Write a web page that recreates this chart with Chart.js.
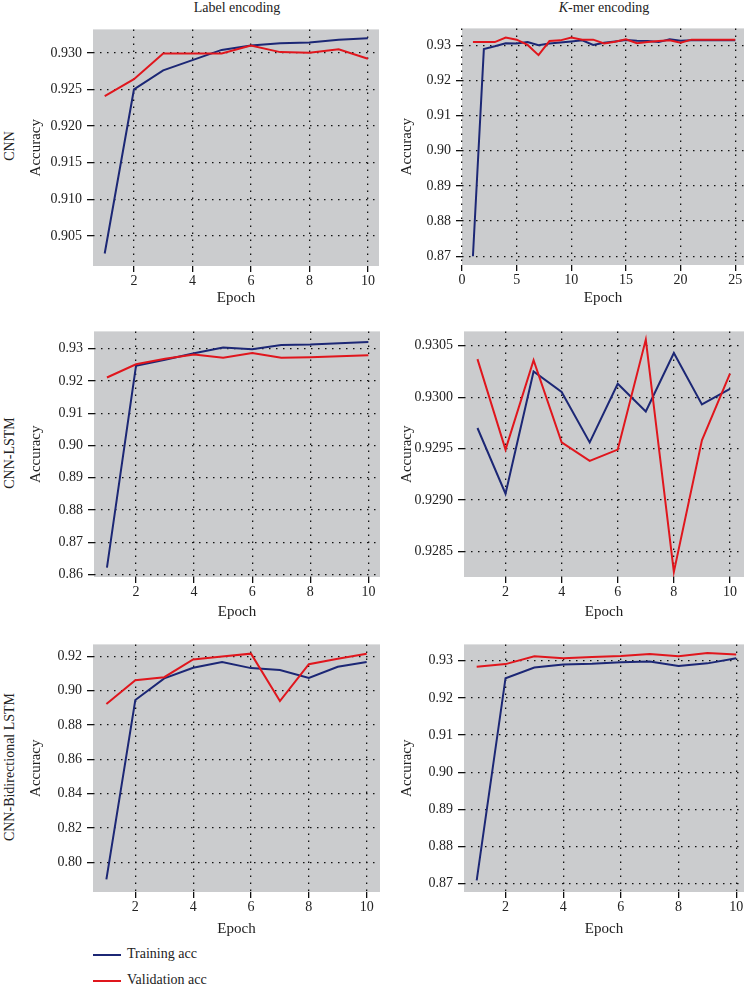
<!DOCTYPE html>
<html>
<head>
<meta charset="utf-8">
<title>Accuracy curves</title>
<script src="https://cdn.jsdelivr.net/npm/chart.js@4.4.1/dist/chart.umd.min.js"></script>
<style>
  body { margin: 0; width: 746px; height: 985px; background: #fff; overflow: hidden; position: relative;
         font-family: "Liberation Serif", "DejaVu Serif", serif; color: #222; }
  canvas { position: absolute; }
  .txt { position: absolute; font-size: 14px; line-height: 16px; white-space: nowrap; }
  .col { top: 0; transform: translateX(-50%); }
  .row { transform: translate(-50%, -50%) rotate(-90deg); }
  .key { position: absolute; left: 93px; width: 28px; height: 2px; }
</style>
</head>
<body>

<div class="txt col" style="left:237px">Label encoding</div>
<div class="txt col" style="left:604px"><i>K</i>-mer encoding</div>

<div class="txt row" style="left:10px;top:146px">CNN</div>
<div class="txt row" style="left:10px;top:453px">CNN-LSTM</div>
<div class="txt row" style="left:10px;top:767px">CNN-Bidirectional LSTM</div>

<div class="key" style="top:954px;background:#1c2775"></div>
<div class="txt" style="left:127px;top:946px">Training acc</div>
<div class="key" style="top:980px;background:#e0161d"></div>
<div class="txt" style="left:127px;top:972px">Validation acc</div>

<canvas id="p1"></canvas>
<canvas id="p2"></canvas>
<canvas id="p3"></canvas>
<canvas id="p4"></canvas>
<canvas id="p5"></canvas>
<canvas id="p6"></canvas>

<script>
// epochs and tick labels
const epochs10 = [1, 2, 3, 4, 5, 6, 7, 8, 9, 10];
const epochs25 = [1, 2, 3, 4, 5, 6, 7, 8, 9, 10, 11, 12, 13, 14, 15, 16, 17, 18, 19, 20, 21, 22, 23, 24, 25];
const xTicks10 = [2, 4, 6, 8, 10];
const xTicks25 = [0, 5, 10, 15, 20, 25];

// CNN, label encoding
const cnnLabelTrain = [0.9026, 0.9250, 0.9276, 0.9290, 0.9304, 0.9310, 0.9313, 0.9314, 0.9318, 0.9320];
const cnnLabelValid = [0.9241, 0.9264, 0.9299, 0.9299, 0.9299, 0.9310, 0.9301, 0.9300, 0.9305, 0.9292];
const cnnLabelYTicks = [0.905, 0.910, 0.915, 0.920, 0.925, 0.930];

// CNN, k-mer encoding
const cnnKmerTrain = [0.8700, 0.9289, 0.9297, 0.9306, 0.9305, 0.9309, 0.9300, 0.9305, 0.9308, 0.9311, 0.9314, 0.9301, 0.9307,
                      0.9311, 0.9315, 0.9313, 0.9312, 0.9309, 0.9317, 0.9313, 0.9314, 0.9314, 0.9314, 0.9314, 0.9314];
const cnnKmerValid = [0.9309, 0.9309, 0.9309, 0.9322, 0.9316, 0.9301, 0.9272, 0.9312, 0.9314, 0.9322, 0.9316, 0.9316, 0.9305,
                      0.9310, 0.9317, 0.9306, 0.9309, 0.9312, 0.9314, 0.9307, 0.9316, 0.9316, 0.9316, 0.9316, 0.9316];
const cnnKmerYTicks = [0.87, 0.88, 0.89, 0.90, 0.91, 0.92, 0.93];

// CNN-LSTM, label encoding
const lstmLabelTrain = [0.8621, 0.9247, 0.9266, 0.9286, 0.9304, 0.9299, 0.9312, 0.9313, 0.9317, 0.9321];
const lstmLabelValid = [0.9211, 0.9252, 0.9269, 0.9282, 0.9272, 0.9287, 0.9272, 0.9274, 0.9277, 0.9280];
const lstmLabelYTicks = [0.86, 0.87, 0.88, 0.89, 0.90, 0.91, 0.92, 0.93];

// CNN-LSTM, k-mer encoding
const lstmKmerTrain = [0.92970, 0.92906, 0.93025, 0.93005, 0.92956, 0.93013, 0.92986, 0.93043, 0.92993, 0.93008];
const lstmKmerValid = [0.93037, 0.92949, 0.93036, 0.92956, 0.92938, 0.92949, 0.93056, 0.92830, 0.92958, 0.93023];
const lstmKmerYTicks = [0.9285, 0.9290, 0.9295, 0.9300, 0.9305];

// CNN-Bidirectional LSTM, label encoding
const bilstmLabelTrain = [0.7901, 0.8945, 0.9071, 0.9133, 0.9166, 0.9131, 0.9120, 0.9074, 0.9139, 0.9166];
const bilstmLabelValid = [0.8922, 0.9061, 0.9078, 0.9181, 0.9198, 0.9215, 0.8939, 0.9154, 0.9185, 0.9215];
const bilstmLabelYTicks = [0.80, 0.82, 0.84, 0.86, 0.88, 0.90, 0.92];

// CNN-Bidirectional LSTM, k-mer encoding
const bilstmKmerTrain = [0.8709, 0.9253, 0.9282, 0.9290, 0.9292, 0.9296, 0.9298, 0.9286, 0.9293, 0.9307];
const bilstmKmerValid = [0.9284, 0.9291, 0.9312, 0.9307, 0.9310, 0.9313, 0.9318, 0.9312, 0.9321, 0.9317];
const bilstmKmerYTicks = [0.87, 0.88, 0.89, 0.90, 0.91, 0.92, 0.93];

const TRAIN_COLOR = '#1c2775';
const VALID_COLOR = '#e0161d';
const PANEL_GRAY = '#cbccce';

Chart.defaults.font.family = '"Liberation Serif", "DejaVu Serif", serif';
Chart.defaults.font.size = 14;
Chart.defaults.color = '#222';

// gray plot background
const plotBackground = {
    id: 'plotBackground',
    beforeDraw(chart) {
        const a = chart.chartArea;
        chart.ctx.save();
        chart.ctx.fillStyle = PANEL_GRAY;
        chart.ctx.fillRect(a.left, a.top, a.right - a.left, a.bottom - a.top);
        chart.ctx.restore();
    }
};

// plot box = [left, top, right, bottom] in page pixels
const panels = [
    { id: 'p1', col: 0, x: epochs10, train: cnnLabelTrain, valid: cnnLabelValid, xTicks: xTicks10, yTicks: cnnLabelYTicks,
      digits: 3, xMin: 0.6, xMax: 10.38, yMin: 0.9009, yMax: 0.9332, box: [93, 26, 379, 266], epochY: 298 },
    { id: 'p2', col: 1, x: epochs25, train: cnnKmerTrain, valid: cnnKmerValid, xTicks: xTicks25, yTicks: cnnKmerYTicks,
      digits: 2, xMin: 0, xMax: 25.8, yMin: 0.8675, yMax: 0.9348, box: [462, 25, 744, 265], epochY: 298 },
    { id: 'p3', col: 0, x: epochs10, train: lstmLabelTrain, valid: lstmLabelValid, xTicks: xTicks10, yTicks: lstmLabelYTicks,
      digits: 2, xMin: 0.554, xMax: 10.4, yMin: 0.8592, yMax: 0.9354, box: [94, 328, 380, 577], epochY: 612 },
    { id: 'p4', col: 1, x: epochs10, train: lstmKmerTrain, valid: lstmKmerValid, xTicks: xTicks10, yTicks: lstmKmerYTicks,
      digits: 4, xMin: 0.52, xMax: 10.5, yMin: 0.92825, yMax: 0.93064, box: [464, 328, 744, 577], epochY: 612 },
    { id: 'p5', col: 0, x: epochs10, train: bilstmLabelTrain, valid: bilstmLabelValid, xTicks: xTicks10, yTicks: bilstmLabelYTicks,
      digits: 2, xMin: 0.537, xMax: 10.46, yMin: 0.7828, yMax: 0.9269, box: [93, 641, 380, 892], epochY: 929 },
    { id: 'p6', col: 1, x: epochs10, train: bilstmKmerTrain, valid: bilstmKmerValid, xTicks: xTicks10, yTicks: bilstmKmerYTicks,
      digits: 2, xMin: 0.56, xMax: 10.27, yMin: 0.8678, yMax: 0.9344, box: [464, 641, 744, 892], epochY: 929 }
];

function toPoints(xs, ys) {
    return xs.map((x, i) => ({ x: x, y: ys[i] }));
}

function drawPanel(p) {
    const canvas = document.getElementById(p.id);
    const padTop = 10, padRight = 10;
    const left = p.col === 0 ? 27 : 398; // "Accuracy" title sits at the canvas edge
    const top = p.box[1] - padTop;
    const width = p.box[2] + padRight - left;
    const height = p.epochY + 9 - top;
    canvas.width = width;
    canvas.height = height;
    canvas.style.left = left + 'px';
    canvas.style.top = top + 'px';
    canvas.style.width = width + 'px';
    canvas.style.height = height + 'px';

    const dotted = { display: false, dash: [1.5, 5.5] };
    const titleFont = { size: 15 };

    new Chart(canvas.getContext('2d'), {
        type: 'line',
        data: {
            datasets: [{
                label: 'Training acc',
                data: toPoints(p.x, p.train),
                borderColor: TRAIN_COLOR,
                borderWidth: 2,
                pointRadius: 0,
                order: 1
            }, {
                label: 'Validation acc',
                data: toPoints(p.x, p.valid),
                borderColor: VALID_COLOR,
                borderWidth: 2,
                pointRadius: 0,
                order: 0
            }]
        },
        options: {
            responsive: false,
            animation: false,
            layout: { padding: { top: padTop, right: padRight, left: 0, bottom: 0 } },
            plugins: { legend: { display: false }, tooltip: { enabled: false } },
            scales: {
                x: {
                    type: 'linear',
                    min: p.xMin,
                    max: p.xMax,
                    afterBuildTicks: s => { s.ticks = p.xTicks.map(v => ({ value: v })); },
                    afterFit: s => { s.height = p.epochY + 9 - p.box[3]; },
                    grid: { color: '#111', lineWidth: 1.3, tickLength: 6, tickBorderDash: [] },
                    border: dotted,
                    ticks: { padding: 1, maxRotation: 0, callback: v => String(v) },
                    title: { display: true, text: 'Epoch', padding: 0, font: titleFont }
                },
                y: {
                    min: p.yMin,
                    max: p.yMax,
                    afterBuildTicks: s => { s.ticks = p.yTicks.map(v => ({ value: v })); },
                    afterFit: s => { s.width = p.box[0] - left; },
                    grid: { color: '#111', lineWidth: 1.3, tickLength: 6, tickBorderDash: [] },
                    border: dotted,
                    ticks: { padding: 5, callback: v => v.toFixed(p.digits) },
                    title: { display: true, text: 'Accuracy', padding: 0, font: titleFont }
                }
            }
        },
        plugins: [plotBackground]
    });
}

panels.forEach(drawPanel);
</script>
</body>
</html>
